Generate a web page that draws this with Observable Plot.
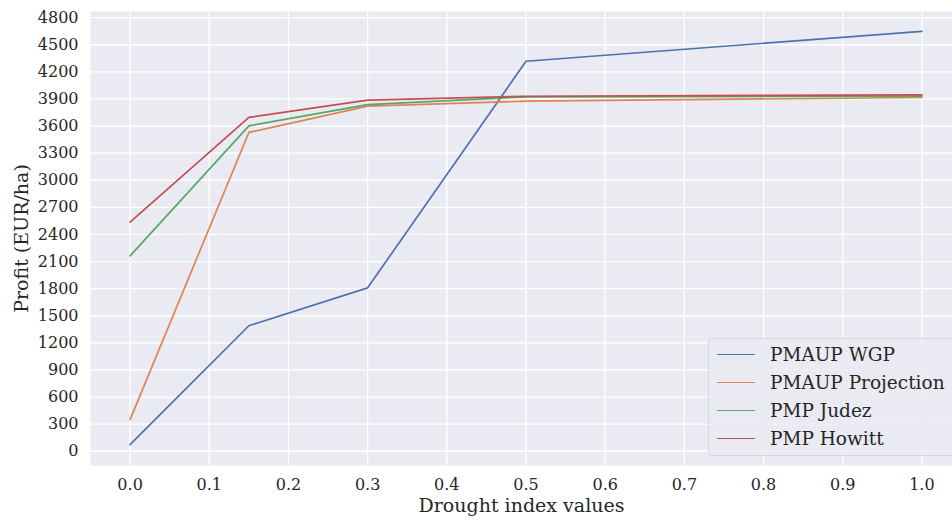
<!DOCTYPE html>
<html>
<head>
<meta charset="utf-8">
<script src="https://cdn.jsdelivr.net/npm/d3@7"></script>
<script src="https://cdn.jsdelivr.net/npm/@observablehq/plot@0.6"></script>
<style>
  body { margin: 0; background: #fff; }
  #wrap { position: relative; width: 952px; height: 520px; overflow: hidden; font-family: "DejaVu Serif", serif; }
  #legend { position: absolute; left: 708px; top: 338px; width: 250px; height: 118px; box-sizing: border-box;
    background: rgba(234,234,242,0.85); border: 1px solid #d6d6de; border-radius: 4px; padding: 1px 0 0 8px; }
  .item { display: flex; align-items: center; height: 28px; font-size: 18.5px; color: #262626; }
  .swatch { width: 38px; height: 0; border-top: 1.6px solid; margin-right: 15px; }
</style>
</head>
<body>
<div id="wrap"></div>
<script>
const droughtIndex = [0.0, 0.15, 0.3, 0.5, 1.0];
const seriesNames = ["PMAUP WGP", "PMAUP Projection", "PMP Judez", "PMP Howitt"];
const wgp        = [74, 1389, 1809, 4317, 4649];
const projection = [350, 3529, 3820, 3875, 3916];
const judez      = [2162, 3602, 3838, 3923, 3932];
const howitt     = [2536, 3695, 3886, 3930, 3945];
const colors = ["#4c72b0", "#dd8452", "#55a868", "#c44e52"];
const yTicks = d3.range(0, 4801, 300);
const xTicks = [0, 0.1, 0.2, 0.3, 0.4, 0.5, 0.6, 0.7, 0.8, 0.9, 1.0];

const allSeries = [wgp, projection, judez, howitt];
const data = [];
allSeries.forEach((vals, i) => vals.forEach((v, j) => data.push({x: droughtIndex[j], y: v, series: seriesNames[i]})));

const chart = Plot.plot({
  width: 952,
  height: 520,
  marginLeft: 90,
  marginRight: 0,
  marginTop: 11,
  marginBottom: 55,
  style: {fontFamily: "DejaVu Serif", fontSize: "16px", color: "#262626", background: "#fff"},
  x: {domain: [-0.05, 1.05], range: [90, 961]},
  y: {domain: [-158, 4868]},
  color: {domain: seriesNames, range: colors},
  marks: [
    Plot.frame({fill: "#eaeaf2", stroke: null}),
    Plot.gridX(xTicks, {stroke: "#fff", strokeOpacity: 1, strokeWidth: 1.3}),
    Plot.gridY(yTicks, {stroke: "#fff", strokeOpacity: 1, strokeWidth: 1.3}),
    Plot.axisX(xTicks, {tickSize: 0, tickPadding: 13, tickFormat: d3.format(".1f"), fontSize: 16,
      label: "Drought index values", labelAnchor: "center", labelArrow: "none", labelOffset: 46}),
    Plot.axisY(yTicks, {tickSize: 0, tickPadding: 12, tickFormat: d => String(d), fontSize: 16,
      label: "Profit (EUR/ha)", labelAnchor: "center", labelArrow: "none", labelOffset: 76}),
    Plot.line(data, {x: "x", y: "y", z: "series", stroke: "series", strokeWidth: 1.7})
  ]
});
chart.querySelectorAll("[aria-label='x-axis label'] text, [aria-label='y-axis label'] text").forEach(t => t.style.fontSize = "19px");
const wrap = document.getElementById("wrap");
wrap.appendChild(chart);

const legend = document.createElement("div");
legend.id = "legend";
seriesNames.forEach((name, i) => {
  const it = document.createElement("div");
  it.className = "item";
  const sw = document.createElement("span");
  sw.className = "swatch";
  sw.style.borderColor = colors[i];
  const lab = document.createElement("span");
  lab.textContent = name;
  it.appendChild(sw); it.appendChild(lab);
  legend.appendChild(it);
});
wrap.appendChild(legend);
</script>
</body>
</html>
